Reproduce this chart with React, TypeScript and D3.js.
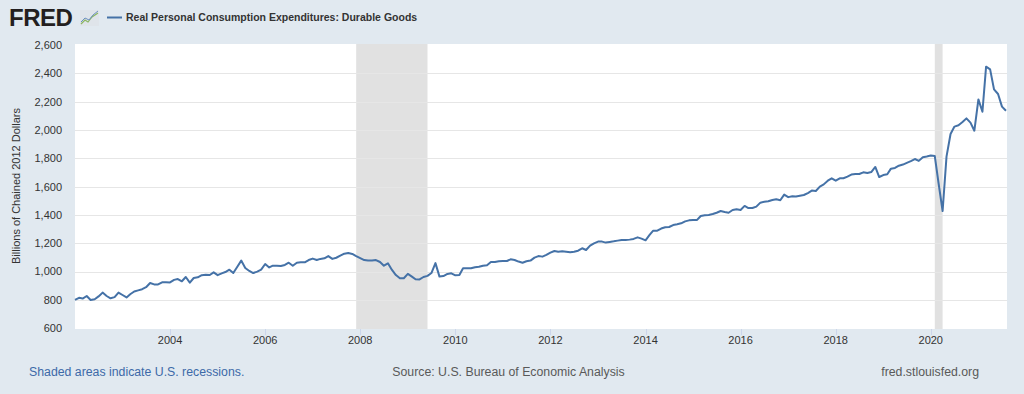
import React, { useEffect, useRef } from 'react';
import * as d3 from 'd3';

// monthly values, Jan 2002 .. Aug 2021 (billions of chained 2012 dollars)
const startYear = 2002;
const values2002 = [800, 815, 810, 828, 800, 805, 825, 852, 828, 812, 820, 852];
const values2003 = [835, 818, 840, 860, 868, 876, 890, 920, 910, 910, 925, 925];
const values2004 = [924, 942, 948, 932, 962, 922, 955, 960, 975, 978, 976, 995];
const values2005 = [975, 988, 997, 1014, 990, 1035, 1078, 1026, 1005, 990, 1000, 1014];
const values2006 = [1054, 1030, 1042, 1042, 1040, 1047, 1063, 1042, 1063, 1066, 1066, 1082];
const values2007 = [1092, 1082, 1090, 1094, 1110, 1090, 1098, 1113, 1127, 1132, 1125, 1110];
const values2008 = [1096, 1082, 1078, 1078, 1082, 1068, 1042, 1059, 1012, 976, 953, 953];
const values2009 = [984, 965, 946, 945, 962, 970, 990, 1060, 965, 969, 984, 988];
const values2010 = [974, 976, 1024, 1024, 1024, 1031, 1035, 1042, 1045, 1068, 1068, 1073];
const values2011 = [1075, 1075, 1087, 1082, 1071, 1063, 1073, 1078, 1099, 1110, 1106, 1118];
const values2012 = [1134, 1146, 1141, 1144, 1141, 1137, 1141, 1148, 1165, 1153, 1184, 1200];
const values2013 = [1212, 1212, 1205, 1210, 1214, 1219, 1224, 1224, 1226, 1231, 1242, 1233];
const values2014 = [1221, 1259, 1289, 1289, 1304, 1313, 1315, 1329, 1334, 1341, 1355, 1362];
const values2015 = [1365, 1365, 1393, 1398, 1400, 1407, 1416, 1428, 1421, 1416, 1435, 1440];
const values2016 = [1435, 1464, 1449, 1449, 1459, 1487, 1494, 1497, 1506, 1511, 1504, 1544];
const values2017 = [1526, 1532, 1530, 1536, 1541, 1555, 1572, 1569, 1600, 1616, 1642, 1659];
const values2018 = [1642, 1659, 1659, 1671, 1685, 1689, 1689, 1701, 1696, 1703, 1739, 1668];
const values2019 = [1682, 1687, 1727, 1732, 1748, 1756, 1768, 1780, 1795, 1782, 1808, 1813];
const values2020 = [1820, 1816, 1624, 1428, 1812, 1972, 2024, 2033, 2056, 2082, 2052, 1995];
const values2021 = [2216, 2129, 2447, 2428, 2287, 2254, 2165, 2136];

const recessions = [
  ['2007-12-01', '2009-06-01'],
  ['2020-02-01', '2020-04-01'],
];
const yTicks = [600, 800, 1000, 1200, 1400, 1600, 1800, 2000, 2200, 2400, 2600];
const xTickYears = [2004, 2006, 2008, 2010, 2012, 2014, 2016, 2018, 2020];

const title = 'Real Personal Consumption Expenditures: Durable Goods';
const yLabel = 'Billions of Chained 2012 Dollars';

const allValues = [
  ...values2002, ...values2003, ...values2004, ...values2005, ...values2006,
  ...values2007, ...values2008, ...values2009, ...values2010, ...values2011,
  ...values2012, ...values2013, ...values2014, ...values2015, ...values2016,
  ...values2017, ...values2018, ...values2019, ...values2020, ...values2021,
];

const App = () => {
  const svgRef = useRef<SVGSVGElement>(null);

  useEffect(() => {
    document.body.style.margin = '0';
    const width = 1024;
    const height = 394;
    const svg = d3.select(svgRef.current);
    svg.selectAll('*').remove();

    const font = 'Liberation Sans, Arial, sans-serif';
    const data = allValues.map((v, i) => ({ date: new Date(startYear, i, 1), value: v }));

    const x = d3.scaleTime()
      .domain([data[0].date, data[data.length - 1].date])
      .range([75, 1006]);
    const y = d3.scaleLinear().domain([600, 2600]).range([328.3, 45]);

    // background
    svg.append('rect').attr('width', width).attr('height', height).attr('fill', '#e1e9f0');

    // plot area
    svg.append('rect')
      .attr('x', 75).attr('y', 44)
      .attr('width', 932).attr('height', 285)
      .attr('fill', '#ffffff');

    // recessions
    svg.append('g')
      .selectAll('rect')
      .data(recessions)
      .join('rect')
      .attr('x', d => x(new Date(d[0])))
      .attr('width', d => x(new Date(d[1])) - x(new Date(d[0])))
      .attr('y', 44)
      .attr('height', 285)
      .attr('fill', '#e1e1e1');

    // grid lines
    svg.append('g')
      .selectAll('line')
      .data(yTicks.slice(1, -1))
      .join('line')
      .attr('x1', 75).attr('x2', 1007)
      .attr('y1', d => Math.round(y(d)) + 0.5)
      .attr('y2', d => Math.round(y(d)) + 0.5)
      .attr('stroke', '#e6e6e6')
      .attr('stroke-width', 1);

    // y tick labels
    svg.append('g')
      .selectAll('text')
      .data(yTicks)
      .join('text')
      .attr('x', 62)
      .attr('y', d => y(d))
      .attr('dy', '0.35em')
      .attr('text-anchor', 'end')
      .attr('font-family', font)
      .attr('font-size', 11)
      .attr('fill', '#333333')
      .text(d => d3.format(',')(d));

    // x ticks
    const xt = svg.append('g');
    xt.selectAll('line')
      .data(xTickYears)
      .join('line')
      .attr('x1', d => Math.round(x(new Date(d, 0, 1))) + 0.5)
      .attr('x2', d => Math.round(x(new Date(d, 0, 1))) + 0.5)
      .attr('y1', 329)
      .attr('y2', 335)
      .attr('stroke', '#ccd6eb');
    xt.selectAll('text')
      .data(xTickYears)
      .join('text')
      .attr('x', d => x(new Date(d, 0, 1)))
      .attr('y', 344)
      .attr('text-anchor', 'middle')
      .attr('font-family', font)
      .attr('font-size', 11)
      .attr('fill', '#333333')
      .text(d => d);

    // y axis title
    svg.append('text')
      .attr('transform', `translate(20,186) rotate(-90)`)
      .attr('text-anchor', 'middle')
      .attr('font-family', font)
      .attr('font-size', 11)
      .attr('fill', '#333333')
      .text(yLabel);

    // line
    const line = d3.line<{ date: Date; value: number }>()
      .x(d => x(d.date))
      .y(d => y(d.value));
    svg.append('path')
      .datum(data)
      .attr('d', line)
      .attr('fill', 'none')
      .attr('stroke', '#4572a7')
      .attr('stroke-width', 2)
      .attr('stroke-linejoin', 'round');

    // header: logo
    svg.append('text')
      .attr('x', 9).attr('y', 26)
      .attr('font-family', font)
      .attr('font-weight', 'bold')
      .attr('font-size', 24)
      .attr('letter-spacing', -0.5)
      .attr('fill', '#231f20')
      .text('FRED');
    const logo = svg.append('g').attr('transform', 'translate(80,10)');
    logo.append('rect').attr('width', 19).attr('height', 16).attr('fill', '#dfe4ea');
    logo.append('polyline')
      .attr('points', '1,14 5,10 8,12 12,7 18,3')
      .attr('fill', 'none').attr('stroke', '#8bb661').attr('stroke-width', 1.2);
    logo.append('polyline')
      .attr('points', '1,12 5,8 9,10 13,5 18,1')
      .attr('fill', 'none').attr('stroke', '#6d8fc0').attr('stroke-width', 1);

    // legend
    svg.append('line')
      .attr('x1', 107).attr('x2', 122)
      .attr('y1', 17.5).attr('y2', 17.5)
      .attr('stroke', '#4572a7').attr('stroke-width', 2);
    svg.append('text')
      .attr('x', 126).attr('y', 21)
      .attr('font-family', font)
      .attr('font-weight', 'bold')
      .attr('font-size', 10.5)
      .attr('fill', '#333333')
      .text(title);

    // footer
    const footer = [
      { text: 'Shaded areas indicate U.S. recessions.', x: 29, anchor: 'start', color: '#3d6aa8' },
      { text: 'Source: U.S. Bureau of Economic Analysis', x: 508.5, anchor: 'middle', color: '#595959' },
      { text: 'fred.stlouisfed.org', x: 979, anchor: 'end', color: '#595959' },
    ];
    svg.append('g')
      .selectAll('text')
      .data(footer)
      .join('text')
      .attr('x', d => d.x)
      .attr('y', 376)
      .attr('text-anchor', d => d.anchor)
      .attr('font-family', font)
      .attr('font-size', 12.3)
      .attr('fill', d => d.color)
      .text(d => d.text);
  }, []);

  return <svg ref={svgRef} width={1024} height={394} style={{ display: 'block' }} />;
};

export default App;
